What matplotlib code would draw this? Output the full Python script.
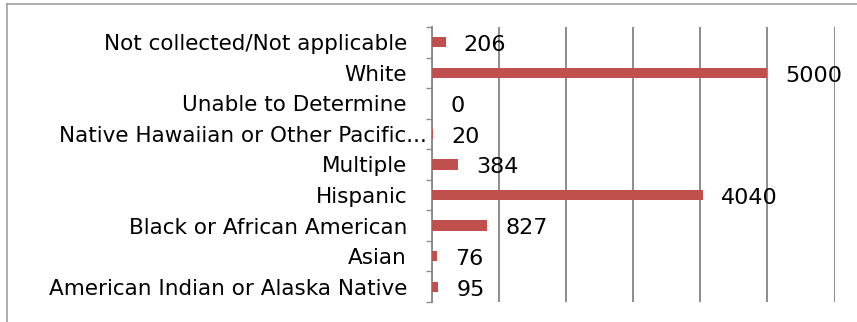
import matplotlib
matplotlib.use("Agg")
import matplotlib.pyplot as plt
import matplotlib.transforms as mtransforms
from matplotlib.lines import Line2D
import numpy as np

# categories listed bottom to top
categories = ["American Indian or Alaska Native", "Asian", "Black or African American",
              "Hispanic", "Multiple", "Native Hawaiian or Other Pacific...",
              "Unable to Determine", "White", "Not collected/Not applicable"]
counts = [95, 76, 827, 4040, 384, 20, 0, 5000, 206]

bar_color = "#C0504D"
grid_color = "#8C8C8C"

fig = plt.figure(figsize=(8.57, 3.22), dpi=100)
ax = fig.add_axes([432 / 857, 1 - 302 / 322, (834.5 - 432) / 857, (302 - 27) / 322])

y = np.arange(len(categories))
ax.barh(y, counts, height=0.34, color=bar_color, zorder=3)

ax.set_xlim(0, 6000)
ax.set_ylim(-0.5, len(categories) - 0.5)

# vertical gridlines every 1000, no x labels
ax.set_xticks(np.arange(0, 6001, 1000))
ax.tick_params(axis="x", length=0, labelbottom=False)
ax.grid(axis="x", color=grid_color, linewidth=1.4, zorder=0)

# category labels, ticks at the band edges
ax.set_yticks(y)
ax.set_yticklabels(categories, fontsize=15.5, family="DejaVu Sans")
ax.tick_params(axis="y", which="major", length=0, pad=18)
ax.set_yticks(np.arange(-0.5, len(categories)), minor=True)
ax.tick_params(axis="y", which="minor", length=4, width=1, color=grid_color)

# the truncated label sits closer to the axis
for lbl in ax.get_yticklabels():
    if lbl.get_text().endswith("..."):
        lbl.set_transform(lbl.get_transform() +
                          mtransforms.ScaledTranslation(14 / 72, 0, fig.dpi_scale_trans))

for side in ["top", "right", "bottom"]:
    ax.spines[side].set_visible(False)
ax.spines["left"].set_color(grid_color)
ax.spines["left"].set_linewidth(1.4)

# value labels right of each bar
for yi, v in zip(y, counts):
    ax.annotate(str(v), xy=(v, yi), xytext=(13, -2), textcoords="offset points",
                ha="left", va="center", fontsize=16, family="DejaVu Sans")

# outer chart border (left and top edges visible)
fig.add_artist(Line2D([7 / 857, 7 / 857], [0, 1 - 4 / 322], transform=fig.transFigure,
                      color="#A0A0A0", linewidth=1.2))
fig.add_artist(Line2D([7 / 857, 1], [1 - 4 / 322, 1 - 4 / 322], transform=fig.transFigure,
                      color="#A0A0A0", linewidth=1.2))

fig.savefig("out.png", dpi=100)
